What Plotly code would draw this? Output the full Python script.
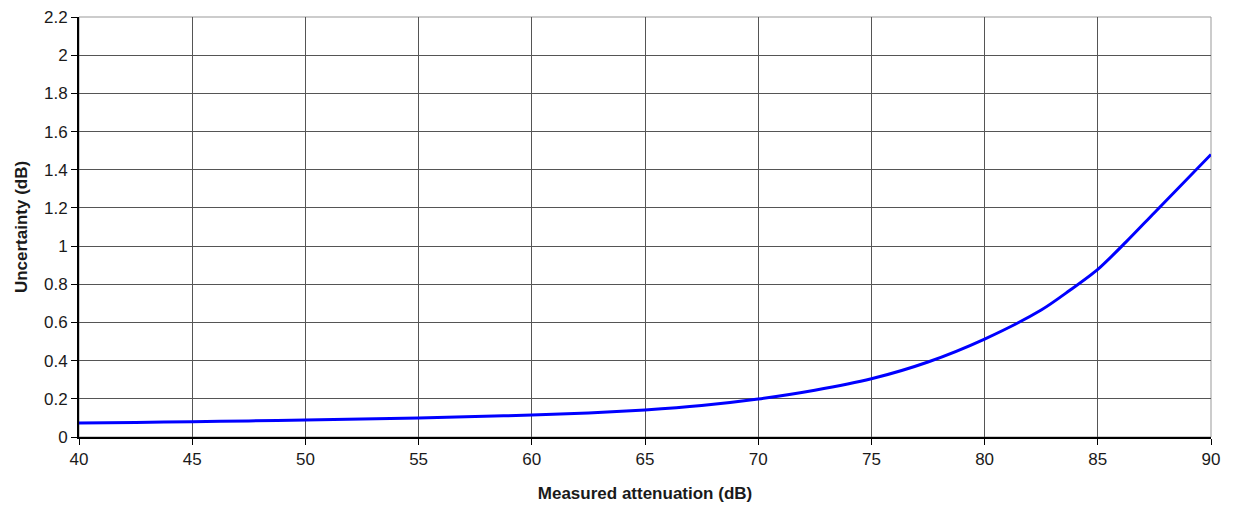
import plotly.graph_objects as go

attenuation_db = [40, 42.5, 45, 47.5, 50, 52.5, 55, 57.5, 60, 62.5, 65, 67.5,
                  70, 72.5, 75, 77.5, 80, 82.5, 83.75, 85, 86.25, 87.5, 90]
uncertainty_db = [0.073, 0.076, 0.080, 0.084, 0.089, 0.094, 0.100, 0.107, 0.115,
                  0.126, 0.142, 0.165, 0.199, 0.245, 0.305, 0.393, 0.513, 0.665,
                  0.767, 0.878, 1.022, 1.175, 1.48]

x_title = "Measured attenuation (dB)"
y_title = "Uncertainty (dB)"

fig = go.Figure()
fig.add_trace(go.Scatter(
    x=attenuation_db, y=uncertainty_db, mode="lines",
    line=dict(color="#0000FF", width=3, shape="spline", smoothing=0.8),
    showlegend=False, hoverinfo="x+y"))

font = dict(family="Liberation Sans, Arial, sans-serif", size=17, color="#1a1a1a")
# page body has an 8px margin, so the figure is placed at (8, 8)
fig.update_layout(
    width=1228, height=503,
    margin=dict(l=71, r=25, t=9, b=74, autoexpand=False),
    paper_bgcolor="white", plot_bgcolor="white",
    font=font,
)
fig.update_xaxes(
    range=[40, 90], dtick=5, tick0=40,
    showgrid=True, gridcolor="#555555", gridwidth=1,
    showline=True, linecolor="black", linewidth=2,
    ticks="outside", ticklen=6, tickcolor="black", tickwidth=1,
    zeroline=False, automargin=False,
    title=dict(text="<b>" + x_title + "</b>", font=dict(size=17), standoff=19),
)
fig.update_yaxes(
    range=[0, 2.2], dtick=0.2, tick0=0,
    showgrid=True, gridcolor="#555555", gridwidth=1,
    showline=True, linecolor="black", linewidth=2,
    ticks="outside", ticklen=6, tickcolor="black", tickwidth=1,
    zeroline=False, automargin=False, ticklabeloverflow="allow",
    title=dict(text="<b>" + y_title + "</b>", font=dict(size=17), standoff=12),
)
fig.add_shape(type="rect", xref="paper", yref="paper", x0=0, y0=0, x1=1, y1=1,
              line=dict(color="#999999", width=1), layer="below")
fig.write_html("out.html")
